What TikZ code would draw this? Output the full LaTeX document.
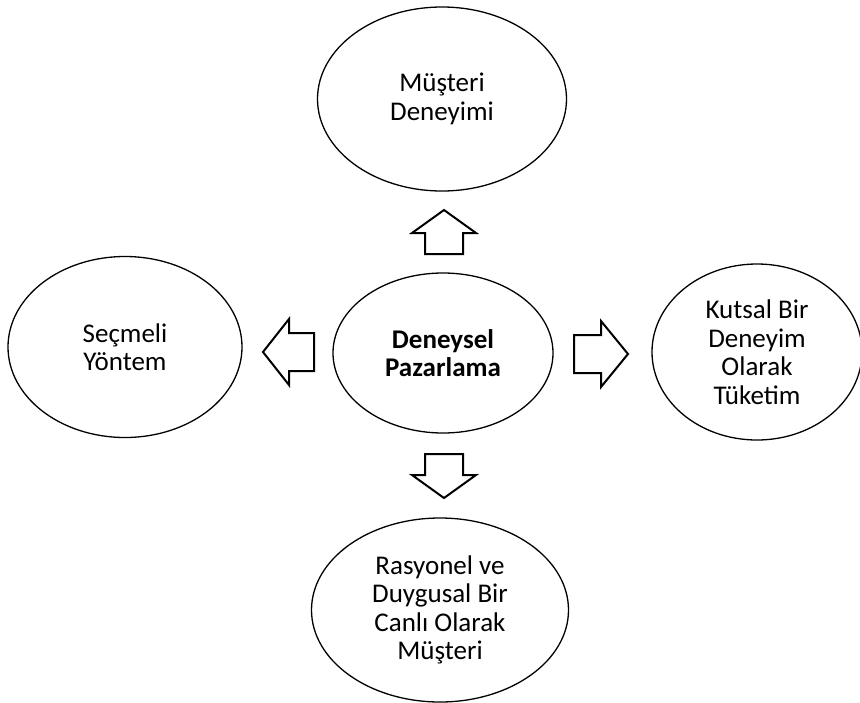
\documentclass[tikz,border=0pt]{standalone}
\usepackage{fontspec}
\setmainfont{Carlito}
\usetikzlibrary{shapes.geometric}

\begin{document}
\begin{tikzpicture}[x=1pt,y=-1pt,
    kutu/.style={draw,ellipse,line width=1.3pt,align=center,inner sep=0pt,
        font=\fontsize{27}{28.5}\selectfont},
    blok/.style={draw,line width=2pt,line join=miter}]
    \useasboundingbox (0,0) rectangle (860,702);
    % ellipses
    \node[kutu,minimum width=249pt,minimum height=184pt] (musteri) at (442,99) {M\"u\c{s}teri\\Deneyimi};
    \node[kutu,minimum width=234pt,minimum height=181pt] (secmeli) at (125,347) {Se\c{c}meli\\Y\"ontem};
    \node[kutu,minimum width=220pt,minimum height=160pt,font=\fontsize{27}{28.5}\selectfont\bfseries] (deneysel) at (443,353) {Deneysel\\Pazarlama};
    \node[kutu,minimum width=210pt,minimum height=176pt] (kutsal) at (757,352) {Kutsal Bir\\Deneyim\\Olarak\\T\"uketim};
    \node[kutu,minimum width=257pt,minimum height=184pt] (rasyonel) at (440,610) {Rasyonel ve\\Duygusal Bir\\Canl\i{} Olarak\\M\"u\c{s}teri};
    % block arrows
    \draw[blok] (444,210)--(476,233)--(463,233)--(463,254)--(425,254)--(425,233)--(412,233)--cycle;
    \draw[blok] (444,498)--(476,475)--(463,475)--(463,454)--(425,454)--(425,475)--(412,475)--cycle;
    \draw[blok] (263,352)--(289,319)--(289,333)--(314,333)--(314,371)--(289,371)--(289,385)--cycle;
    \draw[blok] (628,354)--(601,321)--(601,335)--(574,335)--(574,373)--(601,373)--(601,387)--cycle;
\end{tikzpicture}
\end{document}
